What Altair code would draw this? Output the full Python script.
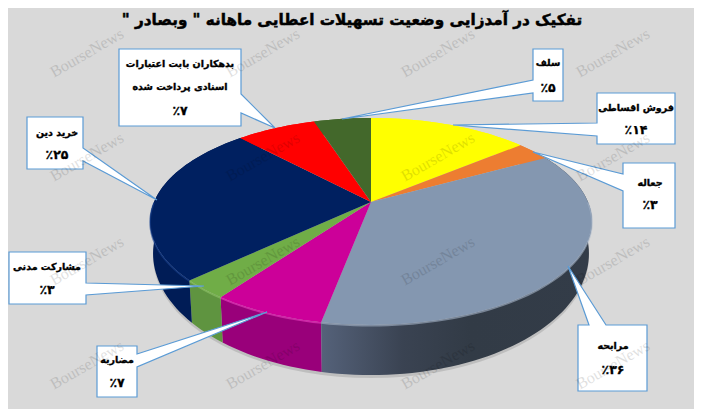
import math
import altair as alt
import pandas as pd

# ---- chart values (clockwise from 12 o'clock) ----
names = ["فروش اقساطی", "جعاله", "مرابحه", "مضاربه", "مشارکت مدنی", "خرید دین", "بدهکاران", "سلف"]
shares = [14, 3, 36, 7, 3, 25, 7, 5]
top_colors = ["#FFFF00", "#ED7D31", "#8497B0", "#CC0099", "#70AD47", "#002060", "#FF0000", "#43682B"]
wall_colors = ["#FFFF00", "#ED7D31", "#333C48", "#99007A", "#5F9440", "#001C56", "#FF0000", "#43682B"]
rim_colors = ["#FFFF00", "#ED7D31", "#A5B4C8", "#F040C4", "#90C468", "#1A4390", "#FF0000", "#43682B"]
title_text = '\u202bتفکیک در آمدزایی وضعیت تسهیلات اعطایی ماهانه " وبصادر "\u202c'
watermark = "BourseNews"

# ---- callouts: label lines ----
callout_lines = [
    ["سلف", "٪۵"],
    ["فروش اقساطی", "٪۱۴"],
    ["جعاله", "٪۳"],
    ["مرابحه", "٪۳۶"],
    ["مضاربه", "٪۷"],
    ["مشارکت مدنی", "٪۳"],
    ["خرید دین", "٪۲۵"],
    ["بدهکاران بابت اعتبارات", "اسنادی پرداخت شده", "٪۷"],
]

# ---- layout (picture pixels, used as the domain of the x / y scales) ----
W, H = 686, 401
X0, Y0 = 8, 8
APEX = (371, 202)
PERSP_K, PERSP_H, PERSP_R = 0.188, 99.8, 217
TOP_CX, TOP_CY, TOP_RX, TOP_RY = 371, 221, 221, 103
LOW_RX, LOW_CY, LOW_RY = 218, 253, 121
# box: left, top, right, bottom; side the wedge leaves from; two wedge ends; tip
boxes = [
    (533, 49, 563, 101, "l", 80, 93, (342, 119)),
    (597, 93, 675, 144, "l", 123, 136, (453, 125)),
    (623, 163, 675, 228, "l", 174, 191, (533, 152)),
    (578, 325, 647, 391, "t", 589, 606, (568, 266)),
    (97, 346, 137, 397, "r", 354, 367, (267, 312)),
    (9, 252, 86, 304, "r", 283, 295, (204, 286)),
    (27, 117, 83, 169, "r", 148, 161, (157, 200)),
    (119, 49, 241, 126, "r", 94, 113, (275, 128)),
]
text_x = [548, 636, 650, 613, 117, 47, 57, 180]
text_y = [[63, 88], [108, 130], [183, 205], [346, 370], [360, 383], [267, 290], [133, 155], [64, 87, 111]]
wm_x = [87, 263, 438, 613]
wm_y = [53, 157, 261, 365]


def project(cum):
    t = cum / 100 * 2 * math.pi
    u, v = math.sin(t), math.cos(t)
    d = 1 + PERSP_K * v
    return APEX[0] + PERSP_R * u / d, APEX[1] - PERSP_H * v / d


def lower(p):
    x, y = p
    return TOP_CX + (x - TOP_CX) * LOW_RX / TOP_RX, LOW_CY + (y - TOP_CY) * LOW_RY / TOP_RY


def arc(a, b):
    n = max(2, int((b - a) * 2))
    return [project(a + (b - a) * i / n) for i in range(n + 1)]


rows_top, rows_wall, rows_rim = [], [], []
cum = 0
gray_wall = []
for name, s, tc, wc, rc in zip(names, shares, top_colors, wall_colors, rim_colors):
    a = arc(cum, cum + s)
    for i, (x, y) in enumerate([APEX] + a):
        rows_top.append(dict(g=name, c=tc, i=i, x=x, y=y))
    wall = a + [lower(p) for p in reversed(a)]
    if name == "مرابحه":
        gray_wall = [dict(i=i, x=x, y=y) for i, (x, y) in enumerate(wall)]
    else:
        for i, (x, y) in enumerate(wall):
            rows_wall.append(dict(g=name, c=wc, i=i, x=x, y=y))
    if cum + s > 25 and cum < 75:
        ra = arc(max(cum, 25), min(cum + s, 75))
        for i, (x, y) in enumerate(ra):
            rows_rim.append(dict(g=name, c=rc, i=i, x=x, y=y + 0.8))
    cum += s

shadow = [dict(i=i, x=lower(project(c))[0], y=lower(project(c))[1] + 3) for i, c in enumerate(range(0, 100))]

rows_box = []
for k, (l, t, r, b, side, e1, e2, tip) in enumerate(boxes):
    if side == "l":
        pts = [(l, t), (r, t), (r, b), (l, b), (l, e2), tip, (l, e1)]
    elif side == "r":
        pts = [(l, t), (r, t), (r, e1), tip, (r, e2), (r, b), (l, b)]
    else:
        pts = [(l, t), (e1, t), tip, (e2, t), (r, t), (r, b), (l, b)]
    for i, (x, y) in enumerate(pts):
        rows_box.append(dict(g=k, i=i, x=x, y=y))

rows_text, rows_pct = [], []
for xx, ys, lines in zip(text_x, text_y, callout_lines):
    for yy, line in zip(ys, lines):
        (rows_pct if line.startswith("٪") else rows_text).append(dict(x=xx, y=yy, t=line))

rows_wm = [dict(x=x, y=y, t=watermark) for x in wm_x for y in wm_y]

X = alt.X("x:Q", axis=None, scale=alt.Scale(domain=[X0, X0 + W], range=[0, W]))
Y = alt.Y("y:Q", axis=None, scale=alt.Scale(domain=[Y0, Y0 + H], range=[0, H]))
FILL = alt.Fill("c:N", scale=None, legend=None)


def poly(rows, **kw):
    return alt.Chart(pd.DataFrame(rows)).mark_line(interpolate="linear-closed", filled=True, **kw)


shadow_l = poly(shadow, fill="#000000", fillOpacity=0.12, strokeWidth=0, stroke="#000000", strokeOpacity=0).encode(
    x=X, y=Y, order="i:Q")
walls = poly(rows_wall, strokeWidth=0).encode(x=X, y=Y, fill=FILL, detail="g:N", order="i:Q")
gray = poly(
    gray_wall,
    strokeWidth=0,
    fill=alt.LinearGradient(
        gradient="linear", x1=0, x2=1, y1=0, y2=0,
        stops=[
            alt.GradientStop(color="#55627A", offset=0),
            alt.GradientStop(color="#3A4352", offset=0.3),
            alt.GradientStop(color="#323B46", offset=0.55),
            alt.GradientStop(color="#333C48", offset=1),
        ],
    ),
).encode(x=X, y=Y, order="i:Q")
tops = poly(rows_top, strokeWidth=0).encode(x=X, y=Y, fill=FILL, detail="g:N", order="i:Q")
rim = (
    alt.Chart(pd.DataFrame(rows_rim))
    .mark_line(strokeWidth=1.6, opacity=0.6)
    .encode(x=X, y=Y, stroke=alt.Stroke("c:N", scale=None, legend=None), detail="g:N", order="i:Q")
)
callouts = poly(rows_box, strokeWidth=1.2, stroke="#5B9BD5", fill="#FFFFFF").encode(
    x=X, y=Y, detail="g:N", order="i:Q")
labels = (
    alt.Chart(pd.DataFrame(rows_text))
    .mark_text(font="DejaVu Sans", fontWeight="bold", fontSize=9.5, color="#000000", stroke="#000000",
               strokeWidth=0.35, align="center", baseline="middle")
    .encode(x=X, y=Y, text="t:N")
)
pcts = (
    alt.Chart(pd.DataFrame(rows_pct))
    .mark_text(font="DejaVu Sans", fontWeight="bold", fontSize=12.5, color="#000000", stroke="#000000",
               strokeWidth=0.3, align="center", baseline="middle")
    .encode(x=X, y=Y, text="t:N")
)
title = (
    alt.Chart(pd.DataFrame([dict(x=352, y=20, t=title_text)]))
    .mark_text(font="DejaVu Sans", fontWeight="bold", fontSize=15.2, color="#000000", stroke="#000000",
               strokeWidth=0.5, align="center", baseline="middle")
    .encode(x=X, y=Y, text="t:N")
)
marks = (
    alt.Chart(pd.DataFrame(rows_wm))
    .mark_text(font="Liberation Serif", fontSize=16, color="#000000", opacity=0.12, angle=330,
               align="center", baseline="middle")
    .encode(x=X, y=Y, text="t:N")
)

chart = (
    alt.layer(shadow_l, walls, gray, tops, rim, callouts, labels, pcts, title, marks)
    .properties(width=W, height=H, background="#D9D9D9", padding=0,
                autosize=alt.AutoSizeParams(type="none"))
    .configure_view(stroke=None)
)

chart.save("out.html", embed_options={"renderer": "svg", "actions": False})
